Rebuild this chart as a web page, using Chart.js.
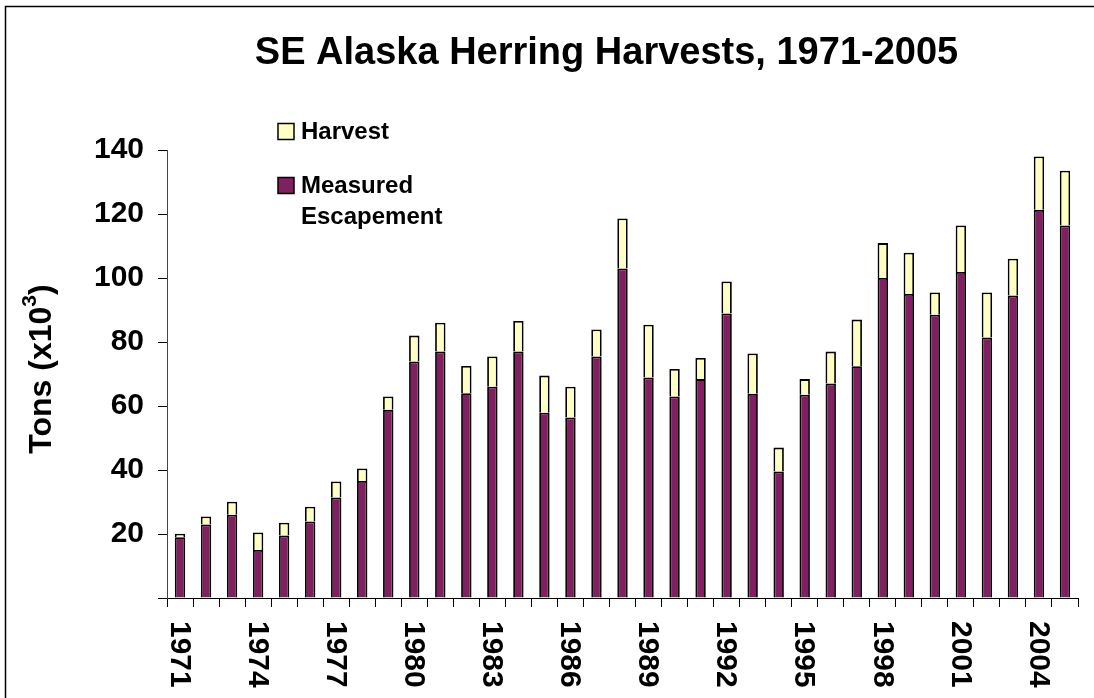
<!DOCTYPE html>
<html><head><meta charset="utf-8">
<script src="https://cdn.jsdelivr.net/npm/chart.js@4/dist/chart.umd.min.js"></script>
<style>html,body{margin:0;padding:0;background:#fff;overflow:hidden}</style>
</head><body>
<canvas id="c" width="1094" height="698"></canvas>
<script>
// ---- data ----
const years = [1971,1972,1973,1974,1975,1976,1977,1978,1979,1980,1981,1982,1983,1984,1985,1986,1987,1988,1989,1990,1991,1992,1993,1994,1995,1996,1997,1998,1999,2000,2001,2002,2003,2004,2005];
const escapement = [19.0,23.0,26.0,15.0,19.5,23.9,31.4,36.6,58.8,73.9,77.0,64.0,66.0,77.0,57.9,56.4,75.5,103.0,68.9,63.0,68.4,88.9,63.8,39.5,63.5,67.0,72.4,100.0,95.0,88.5,101.9,81.4,94.5,121.3,116.4];
const harvest = [1.1,2.5,4.1,5.5,4.0,4.6,5.0,3.9,4.2,8.1,9.0,8.5,9.5,9.6,11.6,9.6,8.4,15.6,16.5,8.6,6.6,10.0,12.6,7.5,4.9,10.0,14.6,10.9,12.9,7.0,14.5,14.1,11.5,16.7,17.1];
const yTickValues = [0,20,40,60,80,100,120,140];
const xLabelYears = [1971,1974,1977,1980,1983,1986,1989,1992,1995,1998,2001,2004];
const titleText = 'SE Alaska Herring Harvests, 1971-2005';
const yTitleMain = 'Tons (x10';
const yTitleSup = '3';
const yTitleEnd = ')';
const legendHarvest = ['Harvest'];
const legendEscapement = ['Measured', 'Escapement'];

const FONT = '"Liberation Sans", Arial, sans-serif';
const PURPLE = '#802060';
const YELLOW = '#FFFFC4';

const decor = {
  id: 'decor',
  beforeDraw(chart) {
    const ctx = chart.ctx;
    ctx.save();
    ctx.fillStyle = '#fff';
    ctx.fillRect(0, 0, chart.width, chart.height);
    ctx.strokeStyle = '#000';
    ctx.lineWidth = 1.5;
    ctx.beginPath();
    ctx.moveTo(5.5, chart.height + 5);
    ctx.lineTo(5.5, 6.5);
    ctx.lineTo(chart.width + 5, 6.5);
    ctx.stroke();
    ctx.restore();
  },
  afterDraw(chart) {
    const ctx = chart.ctx;
    ctx.save();
    ctx.fillStyle = '#000';
    // title
    ctx.font = 'bold 38px ' + FONT;
    ctx.textAlign = 'center';
    ctx.textBaseline = 'alphabetic';
    ctx.fillText(titleText, 606.5, 63.5);
    // x labels
    const xs = chart.scales.x;
    ctx.font = 'bold 30px ' + FONT;
    ctx.textAlign = 'left';
    ctx.textBaseline = 'middle';
    xLabelYears.forEach(y => {
      const i = years.indexOf(y);
      const px = xs.getPixelForValue(i);
      ctx.save();
      ctx.translate(px, 621);
      ctx.rotate(Math.PI / 2);
      ctx.fillText(String(y), 0, 1);
      ctx.restore();
    });
    // y title
    ctx.save();
    ctx.translate(50.5, 369);
    ctx.rotate(-Math.PI / 2);
    ctx.textAlign = 'left';
    ctx.textBaseline = 'alphabetic';
    const fMain = 'bold 32px ' + FONT, fSup = 'bold 21px ' + FONT;
    ctx.font = fMain;
    const w1 = ctx.measureText(yTitleMain).width;
    const w3 = ctx.measureText(yTitleEnd).width;
    ctx.font = fSup;
    const w2 = ctx.measureText(yTitleSup).width;
    let x0 = -(w1 + w2 + w3) / 2;
    ctx.font = fMain;
    ctx.fillText(yTitleMain, x0, 0);
    ctx.font = fSup;
    ctx.fillText(yTitleSup, x0 + w1, -15);
    ctx.font = fMain;
    ctx.fillText(yTitleEnd, x0 + w1 + w2, 0);
    ctx.restore();
    // legend
    ctx.font = 'bold 24px ' + FONT;
    ctx.textAlign = 'left';
    ctx.textBaseline = 'alphabetic';
    ctx.lineWidth = 1.5;
    ctx.strokeStyle = '#000';
    ctx.fillStyle = YELLOW;
    ctx.fillRect(278, 123.5, 16, 16);
    ctx.strokeRect(278, 123.5, 16, 16);
    ctx.fillStyle = PURPLE;
    ctx.fillRect(278, 177.5, 16, 16);
    ctx.strokeRect(278, 177.5, 16, 16);
    ctx.fillStyle = '#000';
    ctx.fillText(legendHarvest[0], 301, 139);
    ctx.fillText(legendEscapement[0], 301, 193);
    ctx.fillText(legendEscapement[1], 301, 224);
    ctx.restore();
  }
};

new Chart(document.getElementById('c'), {
  type: 'bar',
  data: {
    labels: years.map(String),
    datasets: [
      { label: 'Measured Escapement', data: escapement, backgroundColor: PURPLE, borderColor: '#000', borderWidth: 1.8, barPercentage: 0.4, categoryPercentage: 1 },
      { label: 'Harvest', data: harvest, backgroundColor: YELLOW, borderColor: '#000', borderWidth: 1.8, barPercentage: 0.4, categoryPercentage: 1 }
    ]
  },
  options: {
    responsive: false,
    animation: false,
    devicePixelRatio: 1,
    layout: { padding: { top: 150, right: 16, left: 0, bottom: 0 } },
    plugins: { legend: { display: false }, title: { display: false }, tooltip: { enabled: false } },
    scales: {
      x: {
        stacked: true,
        grid: { display: true, drawOnChartArea: false, drawTicks: true, tickLength: 9, color: '#000', offset: true },
        border: { display: true, color: '#000', width: 1 },
        ticks: { display: false },
        afterFit(s) { s.height = 100; }
      },
      y: {
        stacked: true,
        min: 0, max: 140,
        afterBuildTicks(s) { s.ticks = yTickValues.map(v => ({ value: v })); },
        ticks: {
          callback: v => (v === 0 ? '' : String(v)),
          font: { family: FONT, size: 30, weight: 'bold' },
          color: '#000',
          padding: 14
        },
        grid: { drawOnChartArea: false, tickLength: 9, color: '#000' },
        border: { display: true, color: '#444', width: 1 },
        afterFit(s) { s.width = 167; }
      }
    }
  },
  plugins: [decor]
});
</script>
</body></html>
